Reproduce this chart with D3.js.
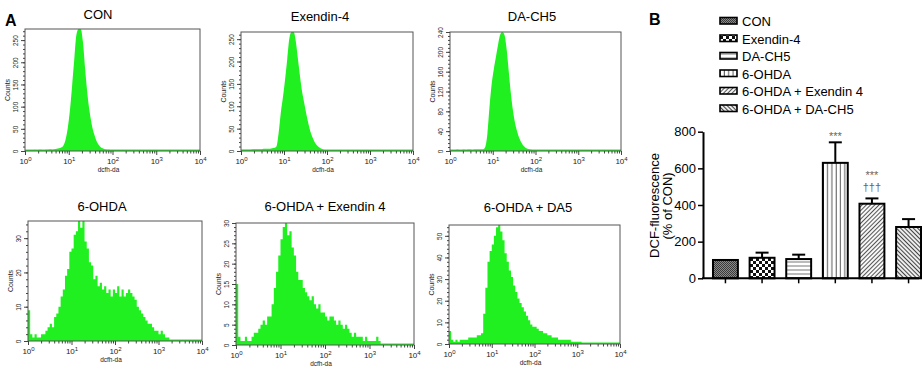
<!DOCTYPE html>
<html>
<head>
<meta charset="utf-8">
<script src="https://cdn.jsdelivr.net/npm/d3@7"></script>
<style>
  body { margin: 0; background: #fff; }
  text { font-family: Arial, "Liberation Sans", sans-serif; font-weight: normal; }
</style>
</head>
<body>
<svg id="fig" width="922" height="367"></svg>
<script>
// ---- panel A: flow cytometry histograms, 20 channels per decade (10^0 .. 10^4)
const conCounts = [
  1, 1, 2, 2, 3, 2, 3, 3, 2, 3, 3, 4, 3, 4, 5, 6, 8, 12, 25, 50,
  90, 145, 205, 262, 280, 278, 245, 185, 130, 90, 60, 40, 25, 15, 9, 6, 4, 3, 3, 2,
  2, 2, 1, 1, 1, 1, 1, 1, 0, 1, 0, 1, 0, 0, 1, 0, 0, 0, 0, 0,
  0, 0, 0, 0, 0, 0, 0, 0, 0, 0, 0, 0, 0, 0, 0, 0, 0, 0, 0, 0];
const exendinCounts = [
  3, 3, 3, 3, 3, 4, 4, 4, 4, 4, 5, 5, 5, 5, 6, 7, 10, 40, 85, 120,
  160, 205, 252, 275, 272, 245, 205, 165, 130, 105, 80, 58, 40, 28, 18, 12, 8, 5, 3, 2,
  1, 1, 1, 1, 1, 1, 1, 0, 1, 1, 1, 0, 1, 1, 1, 0, 1, 1, 0, 1,
  1, 0, 1, 1, 0, 1, 1, 0, 1, 1, 0, 1, 1, 1, 0, 1, 1, 0, 1, 1];
const dach5Counts = [
  2, 2, 2, 3, 2, 2, 3, 2, 3, 3, 2, 3, 3, 3, 3, 3, 8, 35, 90, 135,
  165, 190, 215, 235, 240, 234, 205, 160, 115, 80, 55, 38, 25, 16, 10, 6, 4, 3, 2, 2,
  2, 1, 1, 1, 1, 1, 1, 1, 1, 1, 1, 1, 1, 0, 1, 1, 1, 0, 1, 1,
  1, 1, 0, 1, 1, 1, 0, 1, 1, 0, 1, 1, 1, 0, 1, 1, 0, 1, 1, 1];
const ohdaCounts = [
  9, 2, 1, 2, 1, 1, 2, 2, 3, 4, 5, 4, 7, 8, 10, 13, 15, 19, 21, 26,
  27, 31, 32, 35, 33, 35, 29, 27, 23, 22, 18, 19, 16, 17, 15, 16, 14, 15, 13, 15,
  14, 16, 13, 15, 13, 14, 15, 14, 13, 12, 10, 9, 8, 7, 6, 5, 5, 4, 3, 3,
  2, 3, 2, 1, 1, 0, 0, 0, 0, 0, 0, 0, 0, 0, 0, 0, 0, 0, 0, 0];
const ohdaExCounts = [
  15, 2, 1, 1, 2, 1, 1, 2, 3, 3, 4, 5, 6, 5, 7, 7, 10, 14, 18, 22,
  26, 29, 30, 27, 28, 24, 22, 18, 16, 16, 14, 13, 12, 11, 12, 10, 9, 10, 8, 8,
  7, 6, 7, 7, 6, 5, 6, 5, 4, 5, 4, 3, 2, 3, 2, 2, 2, 1, 2, 1,
  1, 1, 1, 2, 1, 0, 0, 0, 0, 0, 0, 0, 0, 0, 0, 0, 0, 0, 0, 0];
const ohdaDaCounts = [
  6, 2, 1, 2, 1, 2, 2, 2, 2, 3, 3, 3, 3, 4, 4, 5, 14, 26, 38, 43,
  46, 50, 54, 55, 52, 48, 42, 38, 34, 31, 27, 24, 21, 19, 17, 15, 13, 11, 9, 8,
  8, 7, 6, 6, 5, 5, 4, 4, 3, 3, 3, 2, 2, 2, 2, 2, 2, 1, 1, 1,
  1, 1, 0, 0, 0, 0, 0, 0, 0, 0, 0, 0, 0, 0, 0, 0, 0, 0, 0, 0];

const histTitles = ["CON", "Exendin-4", "DA-CH5", "6-OHDA", "6-OHDA + Exendin 4", "6-OHDA + DA5"];
const histSeries = [conCounts, exendinCounts, dach5Counts, ohdaCounts, ohdaExCounts, ohdaDaCounts];
const histYMax = [275, 266, 240, 35, 30, 55];
const histYStep = [50, 50, 40, 10, 5, 10];
const decadeExp = [0, 1, 2, 3, 4];

// ---- panel B: DCF fluorescence bars
const groups = ["CON", "Exendin-4", "DA-CH5", "6-OHDA", "6-OHDA + Exendin 4", "6-OHDA + DA-CH5"];
const dcfMean = [100, 112, 105, 630, 407, 280];
const dcfSem = [0, 28, 24, 112, 29, 43];
const barTicks = [0, 200, 400, 600, 800];
const barMarks = [[], [], [], ["***"], ["***", "†††"], []];

// layout of the six histogram frames
const frames = [
  {x0: 25, x1: 200, y0: 29, y1: 151, tx: 98, ty: 19, smooth: true},
  {x0: 241, x1: 413, y0: 32, y1: 151, tx: 320, ty: 21, smooth: true},
  {x0: 450, x1: 621, y0: 32, y1: 151, tx: 532, ty: 21, smooth: true},
  {x0: 28, x1: 202, y0: 221, y1: 341, tx: 102, ty: 211},
  {x0: 236, x1: 414, y0: 223, y1: 345, tx: 325, ty: 211},
  {x0: 449, x1: 620, y0: 225, y1: 344, tx: 528, ty: 211.5}
];

const green = "#20f020";
const svg = d3.select("#fig");
const defs = svg.append("defs");

svg.append("text").attr("x", 5).attr("y", 26)
  .style("font-size", "16px").style("font-weight", "bold").text("A");
svg.append("text").attr("x", 649).attr("y", 25)
  .style("font-size", "16px").style("font-weight", "bold").text("B");

function drawHist(idx) {
  const f = frames[idx];
  const counts = histSeries[idx];
  const yMax = histYMax[idx];
  const step = histYStep[idx];
  const g = svg.append("g");

  const x = d3.scaleLog().domain([1, 1e4]).range([f.x0, f.x1]);
  const y = d3.scaleLinear().domain([0, yMax]).range([f.y1, f.y0]);

  defs.append("clipPath").attr("id", "clip" + idx)
    .append("rect").attr("x", f.x0).attr("y", f.y0)
    .attr("width", f.x1 - f.x0).attr("height", f.y1 - f.y0);

  const chan = 4 / counts.length;
  let pts;
  if (f.smooth) {
    pts = counts.map((c, i) => ({e: Math.pow(10, (i + 0.5) * chan), c: c}));
    pts.unshift({e: 1, c: counts[0]});
  } else {
    pts = counts.map((c, i) => ({e: Math.pow(10, i * chan), c: c}));
  }
  pts.push({e: 1e4, c: 0});

  const area = d3.area()
    .curve(f.smooth ? d3.curveMonotoneX : d3.curveStepAfter)
    .x(d => x(d.e))
    .y0(y(0))
    .y1(d => y(Math.min(d.c, yMax)));

  g.append("path").datum(pts)
    .attr("clip-path", "url(#clip" + idx + ")")
    .attr("d", area)
    .attr("fill", green);

  g.append("line")
    .attr("x1", f.x0).attr("x2", f.x1)
    .attr("y1", f.y1 - 0.8).attr("y2", f.y1 - 0.8)
    .attr("stroke", green).attr("stroke-width", 1.6);

  g.append("rect")
    .attr("x", f.x0).attr("y", f.y0)
    .attr("width", f.x1 - f.x0).attr("height", f.y1 - f.y0)
    .attr("fill", "none").attr("stroke", "#555").attr("stroke-width", 1);

  // x axis: log ticks
  const minor = [];
  for (let k = 0; k < 4; k++) {
    for (let m = 2; m <= 9; m++) minor.push(m * Math.pow(10, k));
  }
  g.append("g").attr("transform", "translate(0," + f.y1 + ")")
    .call(d3.axisBottom(x).tickValues(minor).tickSize(2.5).tickFormat(""))
    .call(a => a.select(".domain").remove())
    .call(a => a.selectAll("line").attr("stroke", "#444"));
  const xMajor = g.append("g").attr("transform", "translate(0," + f.y1 + ")")
    .call(d3.axisBottom(x).tickValues(decadeExp.map(k => Math.pow(10, k))).tickSize(4).tickFormat(""))
    .call(a => a.select(".domain").remove())
    .call(a => a.selectAll("line").attr("stroke", "#444"));

  xMajor.selectAll(".tick").each(function (d) {
    const t = d3.select(this).append("text")
      .attr("y", 13).attr("fill", "#222")
      .attr("text-anchor", "middle")
      .style("font-size", "8px");
    t.append("tspan").text("10");
    t.append("tspan").attr("dy", -3.5).style("font-size", "6px")
      .text(Math.round(Math.log10(d)));
  });

  g.append("text")
    .attr("x", (f.x0 + f.x1) / 2 - 4).attr("y", f.y1 + 20.5)
    .attr("text-anchor", "middle").attr("fill", "#222")
    .style("font-size", "6.5px").text("dcfh-da");

  // y axis: counts
  g.append("g").attr("transform", "translate(" + f.x0 + ",0)")
    .call(d3.axisLeft(y).tickValues(d3.range(0, yMax + 0.01, step / 5)).tickSize(2).tickFormat(""))
    .call(a => a.select(".domain").remove())
    .call(a => a.selectAll("line").attr("stroke", "#444"));
  g.append("g").attr("transform", "translate(" + f.x0 + ",0)")
    .call(d3.axisLeft(y).tickValues(d3.range(0, yMax + 0.01, step)).tickSize(4))
    .call(a => a.select(".domain").remove())
    .call(a => a.selectAll("line").attr("stroke", "#444"))
    .call(a => a.selectAll("text")
      .attr("transform", "rotate(-90)")
      .attr("x", 0).attr("y", -7.5).attr("dy", 0)
      .attr("text-anchor", "middle")
      .attr("fill", "#222")
      .style("font-size", "6.5px")
      .style("font-family", "Arial, 'Liberation Sans', sans-serif"));

  g.append("text")
    .attr("transform", "translate(" + (f.x0 - 15) + "," + ((f.y0 + f.y1) / 2) + ") rotate(-90)")
    .attr("text-anchor", "middle").attr("fill", "#222")
    .style("font-size", "7px").text("Counts");

  g.append("text")
    .attr("x", f.tx).attr("y", f.ty)
    .attr("text-anchor", "middle")
    .style("font-family", "Arial, 'Liberation Sans', sans-serif")
    .style("font-size", "13px").style("font-weight", "normal")
    .text(histTitles[idx]);
}

histSeries.forEach((s, i) => drawHist(i));

// ---- fill patterns for panel B
function pattern(id, w, h, rotate) {
  const p = defs.append("pattern").attr("id", id)
    .attr("patternUnits", "userSpaceOnUse")
    .attr("width", w).attr("height", h);
  if (rotate) p.attr("patternTransform", "rotate(" + rotate + ")");
  p.append("rect").attr("width", w).attr("height", h).attr("fill", "#fff");
  return p;
}
let p;
p = pattern("pCon", 2, 2);
p.append("rect").attr("width", 2).attr("height", 2).attr("fill", "#8a8a8a");
p.append("rect").attr("width", 1).attr("height", 1).attr("fill", "#3a3a3a");
p.append("rect").attr("x", 1).attr("y", 1).attr("width", 1).attr("height", 1).attr("fill", "#3a3a3a");

p = pattern("pEx", 6, 6);
p.append("rect").attr("width", 3).attr("height", 3).attr("fill", "#111");
p.append("rect").attr("x", 3).attr("y", 3).attr("width", 3).attr("height", 3).attr("fill", "#111");

p = pattern("pDa", 4, 4);
p.append("line").attr("x1", 0).attr("x2", 4).attr("y1", 2).attr("y2", 2)
  .attr("stroke", "#777").attr("stroke-width", 1);

p = pattern("pOh", 4.3, 4);
p.append("line").attr("x1", 2).attr("x2", 2).attr("y1", 0).attr("y2", 4)
  .attr("stroke", "#555").attr("stroke-width", 1);

p = pattern("pOhEx", 3, 3, 45);
p.append("line").attr("x1", 1.5).attr("x2", 1.5).attr("y1", 0).attr("y2", 3)
  .attr("stroke", "#555").attr("stroke-width", 1.1);

p = pattern("pOhDa", 3, 3, -45);
p.append("line").attr("x1", 1.5).attr("x2", 1.5).attr("y1", 0).attr("y2", 3)
  .attr("stroke", "#444").attr("stroke-width", 1.2);

const fills = ["pCon", "pEx", "pDa", "pOh", "pOhEx", "pOhDa"];

// ---- legend
const legend = svg.append("g");
groups.forEach((name, i) => {
  const base = 26 + i * 17.5;
  legend.append("rect")
    .attr("x", 720).attr("y", base - 8.5)
    .attr("width", 17).attr("height", 6.5)
    .attr("fill", "url(#" + fills[i] + ")")
    .attr("stroke", "#000").attr("stroke-width", 1.6);
  legend.append("text")
    .attr("x", 742).attr("y", base)
    .style("font-size", "13px").text(name);
});

// ---- bar chart
const xB = d3.scaleBand().domain(groups).range([702, 932]).paddingInner(0.32).paddingOuter(0.3);
const yB = d3.scaleLinear().domain([0, 800]).range([278.3, 131.7]);

const bars = svg.append("g");

groups.forEach((name, i) => {
  const cx = xB(name) + xB.bandwidth() / 2;
  const top = yB(dcfMean[i] + dcfSem[i]);
  if (dcfSem[i] > 0) {
    bars.append("line").attr("x1", cx).attr("x2", cx)
      .attr("y1", yB(dcfMean[i])).attr("y2", top)
      .attr("stroke", "#000").attr("stroke-width", 2);
    bars.append("line").attr("x1", cx - 6.5).attr("x2", cx + 6.5)
      .attr("y1", top).attr("y2", top)
      .attr("stroke", "#000").attr("stroke-width", 2);
  }
  bars.append("rect")
    .attr("x", xB(name)).attr("y", yB(dcfMean[i]))
    .attr("width", xB.bandwidth()).attr("height", yB(0) - yB(dcfMean[i]))
    .attr("fill", "url(#" + fills[i] + ")")
    .attr("stroke", "#000").attr("stroke-width", 2);

  // significance marks stacked above the error cap
  const marks = barMarks[i];
  const n = marks.length;
  marks.forEach((m, k) => {
    const b = (n === 1) ? top - 2 : (k === 0 ? top - 19.5 : top - 7);
    bars.append("text")
      .attr("x", cx).attr("y", b)
      .attr("text-anchor", "middle").attr("fill", "#666")
      .style("font-size", "11px").text(m);
  });
});

svg.append("g").attr("transform", "translate(703,0)")
  .call(d3.axisLeft(yB).tickValues(barTicks).tickSize(5).tickSizeOuter(0).tickPadding(2))
  .call(a => a.select(".domain").attr("stroke-width", 2))
  .call(a => a.selectAll(".tick line").attr("stroke-width", 1.5))
  .call(a => a.selectAll("text").style("font-size", "13px")
    .style("font-family", "Arial, 'Liberation Sans', sans-serif").attr("fill", "#000"));

svg.append("g").attr("transform", "translate(0," + yB(0) + ")")
  .call(d3.axisBottom(xB).tickSize(5).tickSizeOuter(0).tickFormat(""))
  .call(a => a.select(".domain").attr("d", "M702,0H919").attr("stroke-width", 2))
  .call(a => a.selectAll(".tick line").attr("stroke-width", 1.5));

svg.append("text")
  .attr("transform", "translate(659,205.5) rotate(-90)")
  .attr("text-anchor", "middle").style("font-size", "13px")
  .text("DCF-fluorescence");
svg.append("text")
  .attr("transform", "translate(672,206) rotate(-90)")
  .attr("text-anchor", "middle").style("font-size", "13px")
  .text("(% of CON)");
</script>
</body>
</html>
